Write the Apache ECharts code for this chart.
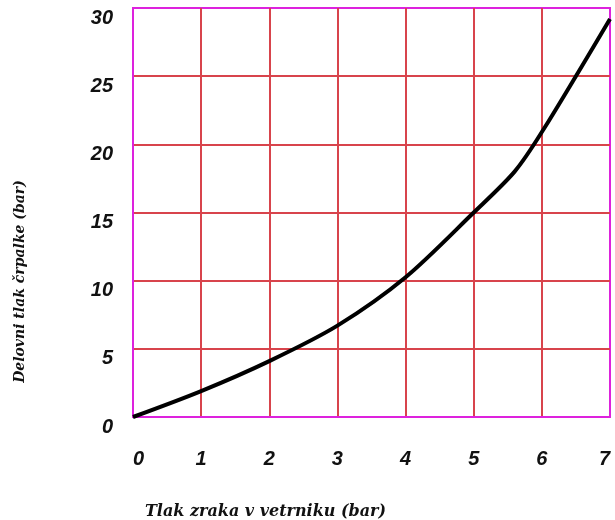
<!DOCTYPE html>
<html>
<head>
<meta charset="utf-8">
<script src="https://cdn.jsdelivr.net/npm/echarts@6/dist/echarts.min.js"></script>
<style>
  html, body { margin: 0; padding: 0; background: #fff; }
  #chart { width: 615px; height: 520px; }
</style>
</head>
<body>
<div id="chart"></div>
<script>
  // tlak zraka (bar) -> delovni tlak crpalke (bar)
  let airPressure = [0, 1, 2, 3, 4, 5, 5.6, 6, 7]
  let pumpPressure = [0, 1.9, 4.1, 6.7, 10.25, 15, 18.0, 20.9, 29.2]
  let xTicks = [0, 1, 2, 3, 4, 5, 6, 7]
  let yTicks = [0, 5, 10, 15, 20, 25, 30]

  let myChart = echarts.init(document.getElementById('chart'))
  let gridRed = '#d8444c'
  let frame = '#dd22dd'

  const option = {
    animation: false,
    grid: {
      left: 133,
      right: 5,
      top: 8,
      bottom: 103,
      outerBoundsMode: 'none',
      show: true,
      borderColor: frame,
      borderWidth: 2
    },
    xAxis: {
      type: 'value',
      min: xTicks[0],
      max: xTicks[xTicks.length - 1],
      interval: 1,
      name: 'Tlak zraka v vetrniku (bar)',
      nameLocation: 'middle',
      nameGap: 87,
      nameTextStyle: {
        fontFamily: 'DejaVu Serif',
        fontStyle: 'italic',
        fontWeight: 'bold',
        fontSize: 16,
        color: '#111',
        padding: [0, 212, 0, 0]
      },
      axisLine: { lineStyle: { color: frame, width: 2 } },
      axisTick: { show: false },
      axisLabel: {
        margin: 32,
        alignMinLabel: 'left',
        alignMaxLabel: 'right',
        fontFamily: 'Liberation Sans',
        fontStyle: 'italic',
        fontWeight: 'bold',
        fontSize: 20,
        color: '#111'
      },
      splitLine: {
        show: true,
        showMinLine: false,
        showMaxLine: false,
        lineStyle: { color: gridRed, width: 2 }
      }
    },
    yAxis: {
      type: 'value',
      min: yTicks[0],
      max: yTicks[yTicks.length - 1],
      interval: 5,
      name: 'Delovni tlak črpalke (bar)',
      nameLocation: 'middle',
      nameGap: 106,
      nameTextStyle: {
        fontFamily: 'DejaVu Serif',
        fontStyle: 'italic',
        fontWeight: 'bold',
        fontSize: 14,
        color: '#111',
        padding: [0, 138, 0, 0]
      },
      axisLine: { show: true, lineStyle: { color: frame, width: 2 } },
      axisTick: { show: false },
      axisLabel: {
        margin: 20,
        fontFamily: 'Liberation Sans',
        fontStyle: 'italic',
        fontWeight: 'bold',
        fontSize: 20,
        color: '#111',
        verticalAlign: 'top'
      },
      splitLine: {
        show: true,
        showMinLine: false,
        showMaxLine: false,
        lineStyle: { color: gridRed, width: 2 }
      }
    },
    series: [
      {
        type: 'line',
        smooth: 0.3,
        symbol: 'none',
        data: airPressure.map((x, i) => [x, pumpPressure[i]]),
        lineStyle: { color: '#000', width: 4 }
      }
    ]
  }
  myChart.setOption(option)
</script>
</body>
</html>
